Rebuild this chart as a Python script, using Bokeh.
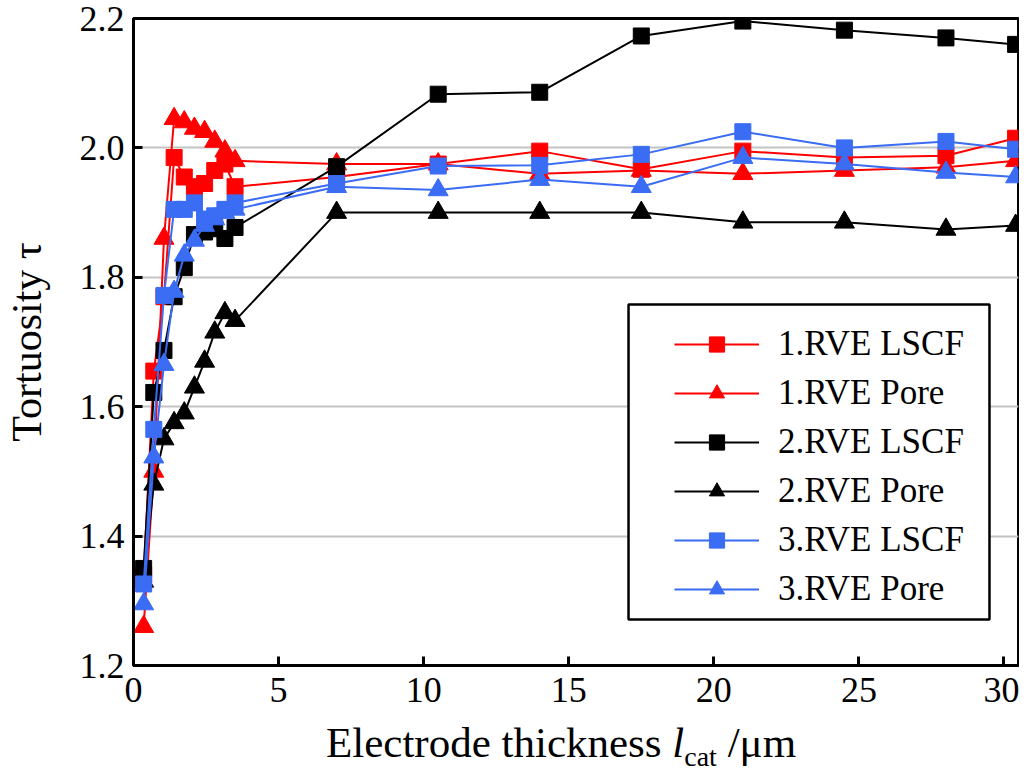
from bokeh.plotting import figure
from bokeh.models import Range1d, Legend, LegendItem, FixedTicker, BoxAnnotation, Div
from bokeh.layouts import column
from bokeh.embed import file_html
from bokeh.resources import INLINE

x_vals = [0.35, 0.7, 1.05, 1.4, 1.75, 2.1, 2.45, 2.8, 3.15, 3.5, 7, 10.5, 14, 17.5, 21, 24.5, 28, 30.4]

rve1_lscf = [1.34, 1.655, 1.77, 1.985, 1.955, 1.94, 1.945, 1.965, 1.975, 1.94, 1.955, 1.975, 1.995, 1.967, 1.995, 1.985, 1.988, 2.015]
rve1_pore = [1.26, 1.50, 1.86, 2.045, 2.04, 2.03, 2.025, 2.01, 1.995, 1.98, 1.975, 1.975, 1.96, 1.965, 1.96, 1.965, 1.97, 1.98]
rve2_lscf = [1.35, 1.622, 1.687, 1.77, 1.815, 1.866, 1.87, 1.875, 1.86, 1.877, 1.971, 2.083, 2.086, 2.173, 2.196, 2.182, 2.17, 2.16]
rve2_pore = [1.33, 1.48, 1.55, 1.575, 1.59, 1.63, 1.67, 1.715, 1.745, 1.733, 1.90, 1.90, 1.90, 1.90, 1.885, 1.885, 1.874, 1.88]
rve3_lscf = [1.326, 1.565, 1.772, 1.905, 1.905, 1.915, 1.89, 1.895, 1.905, 1.915, 1.945, 1.972, 1.973, 1.99, 2.025, 2.0, 2.01, 1.998]
rve3_pore = [1.295, 1.522, 1.665, 1.778, 1.834, 1.857, 1.88, 1.89, 1.90, 1.905, 1.94, 1.935, 1.951, 1.94, 1.985, 1.975, 1.962, 1.955]

series_names = ["1.RVE LSCF", "1.RVE Pore", "2.RVE LSCF", "2.RVE Pore", "3.RVE LSCF", "3.RVE Pore"]
series_vals = [rve1_lscf, rve1_pore, rve2_lscf, rve2_pore, rve3_lscf, rve3_pore]
series_colors = ["#ff0000", "#ff0000", "#000000", "#000000", "#3a6cf4", "#3a6cf4"]
series_markers = ["square", "triangle", "square", "triangle", "square", "triangle"]

x_ticks = [0, 5, 10, 15, 20, 25, 30]
y_ticks = [1.2, 1.4, 1.6, 1.8, 2.0, 2.2]
y_grid = [1.4, 1.6, 1.8, 2.0]

FONT = "Liberation Serif"

p = figure(width=1019, height=722, output_backend="svg", toolbar_location=None,
           x_range=Range1d(0, 30.5), y_range=Range1d(1.2, 2.2),
           min_border_left=133, min_border_right=1, min_border_top=18, min_border_bottom=57)

p.background_fill_color = "white"
p.border_fill_color = "white"
p.outline_line_color = "black"
p.outline_line_width = 3

p.xgrid.visible = False
p.ygrid.ticker = FixedTicker(ticks=y_grid)
p.ygrid.grid_line_color = "#c4c4c4"
p.ygrid.grid_line_width = 2

for ax in (p.xaxis[0], p.yaxis[0]):
    ax.axis_line_color = "black"
    ax.axis_line_width = 3
    ax.major_tick_line_color = "black"
    ax.major_tick_line_width = 3
    ax.major_tick_in = 9
    ax.major_tick_out = 0
    ax.minor_tick_line_color = None
    ax.major_label_text_font = FONT
    ax.major_label_text_font_size = "36px"
    ax.major_label_text_color = "black"

p.xaxis.ticker = FixedTicker(ticks=x_ticks)
p.yaxis.ticker = FixedTicker(ticks=y_ticks)
p.xaxis.major_label_standoff = 12
p.yaxis.major_label_standoff = 9
p.yaxis.major_label_overrides = {t: f"{t:.1f}" for t in y_ticks}

p.yaxis.axis_label = "Tortuosity τ"
p.yaxis.axis_label_text_font = FONT
p.yaxis.axis_label_text_font_size = "42px"
p.yaxis.axis_label_text_font_style = "normal"
p.yaxis.axis_label_text_color = "black"
p.yaxis.axis_label_standoff = 27

renderers = {}
for i in range(6):
    ln = p.line(x_vals, series_vals[i], line_color=series_colors[i], line_width=2)
    sc = p.scatter(x_vals, series_vals[i], marker=series_markers[i],
                   size=16 if series_markers[i] == "square" else 20,
                   fill_color=series_colors[i], line_color=series_colors[i], line_width=1)
    renderers[i] = [ln, sc]

# legend frame
legend_box = BoxAnnotation(left=17.06, right=29.50, bottom=1.271, top=1.758,
                           fill_color="white", fill_alpha=1.0,
                           line_color="black", line_width=2.5, line_alpha=1.0)
p.add_layout(legend_box)

items = [LegendItem(label=series_names[i], renderers=renderers[i]) for i in range(6)]
legend = Legend(items=items, location=(541, 56), margin=0,
                label_text_font=FONT, label_text_font_size="35px", label_text_color="black",
                glyph_width=85, glyph_height=38, label_height=38, label_standoff=19,
                spacing=9, padding=10,
                border_line_color=None, background_fill_alpha=0)
p.add_layout(legend, "center")

xlabel = Div(
    text=('<div style="font-family:\'Liberation Serif\';font-size:43px;line-height:42px;'
          'color:black;white-space:nowrap;">Electrode thickness '
          '<i>l</i><span style="font-size:28px;position:relative;top:9px;">cat</span>'
          '&nbsp;/μm</div>'),
    width=1019, height=42,
    styles={"padding-left": "326px", "padding-top": "0px", "margin": "0"})

layout = column(p, xlabel, spacing=0)

open("out.html", "w").write(file_html(layout, INLINE))
